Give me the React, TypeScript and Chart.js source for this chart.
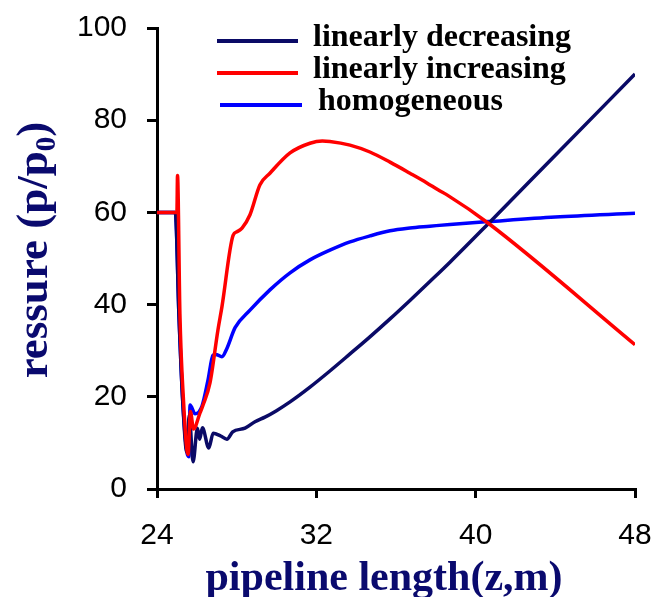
import React, { useEffect, useRef } from "react";
import { Chart, registerables } from "chart.js";

Chart.register(...registerables);

// Pressure ratio along the pipeline for three cross-section profiles
const decreasingX = [24, 24.92, 25.1, 25.28, 25.5, 25.62, 25.81, 26.03, 26.14, 26.28, 26.6, 26.82, 27.2, 27.51, 27.8, 28.42, 28.92, 29.42, 30.0, 30.68, 31.68, 32.68, 33.69, 34.69, 35.7, 36.7, 37.7, 38.71, 40.62, 44, 48];
const decreasingY = [60, 60, 38, 20, 8, 16, 5.9, 13.2, 10.8, 13.3, 8.9, 12.1, 11.5, 10.8, 12.4, 13.2, 14.6, 15.6, 17, 18.9, 22.1, 25.6, 29.3, 33.0, 36.9, 40.9, 45.0, 49.2, 57.5, 72.4, 90];

const increasingX = [24, 25.0, 25.03, 25.15, 25.32, 25.56, 25.68, 25.83, 26.16, 26.31, 26.66, 27.06, 27.26, 27.82, 28.02, 28.27, 28.67, 29.17, 29.67, 30.68, 31.68, 32.3, 32.68, 33.69, 34.69, 35.7, 36.7, 37.55, 38.11, 38.56, 40.62, 48];
const increasingY = [60, 60, 68, 38, 20, 7.5, 16.8, 13.0, 16.5, 18.2, 23, 34.5, 39.5, 55, 55.8, 56.6, 59.5, 66, 68.5, 72.9, 75, 75.5, 75.4, 74.6, 73.1, 70.9, 68.5, 66.4, 64.9, 63.8, 57.7, 31.3];

const homogeneousX = [24, 24.92, 25.1, 25.28, 25.5, 25.6, 25.66, 25.91, 26.26, 26.56, 26.81, 26.95, 27.26, 27.51, 27.92, 28.67, 29.67, 30.68, 31.68, 32.68, 33.69, 34.69, 35.7, 36.7, 37.7, 38.71, 40.62, 44, 48];
const homogeneousY = [60, 60, 38, 20, 8, 7, 18.2, 16.3, 18, 23.6, 29, 29.2, 28.7, 30.5, 35, 38.8, 43.2, 46.9, 49.7, 51.8, 53.6, 54.9, 56, 56.6, 57.0, 57.4, 58.0, 59.0, 59.8];

const seriesLabels = ["linearly decreasing", "linearly increasing", "homogeneous"];
const seriesColors = ["#0a0a66", "#ff0000", "#0000ff"];

const xTicks = [24, 32, 40, 48];
const yTicks = [0, 20, 40, 60, 80, 100];

const xTitle = "pipeline length(z,m)";
const yTitleMain = "ressure (p/p";
const yTitleSub = "0";
const yTitleEnd = ")";

const toPoints = (xs: number[], ys: number[]) => xs.map((x, i) => ({ x, y: ys[i] }));

const TITLE_COLOR = "#0a0a6e";

const annotations = {
  id: "annotations",
  afterDraw(chart: any) {
    const ctx: CanvasRenderingContext2D = chart.ctx;
    ctx.save();

    // legend inside the plot, upper right
    const legendRows = [
      { x1: 217, x2: 298, ly: 41, tx: 313, ty: 46 },
      { x1: 217, x2: 298, ly: 73, tx: 313, ty: 78 },
      { x1: 220, x2: 302, ly: 105, tx: 318, ty: 110 },
    ];
    ctx.font = "bold 32px 'Liberation Serif'";
    ctx.textBaseline = "alphabetic";
    ctx.textAlign = "left";
    legendRows.forEach((r, i) => {
      ctx.strokeStyle = seriesColors[i];
      ctx.lineWidth = 4;
      ctx.beginPath();
      ctx.moveTo(r.x1, r.ly);
      ctx.lineTo(r.x2, r.ly);
      ctx.stroke();
      ctx.fillStyle = "#000";
      ctx.fillText(seriesLabels[i], r.tx, r.ty);
    });

    // x axis title
    ctx.fillStyle = TITLE_COLOR;
    ctx.font = "bold 42px 'Liberation Serif'";
    ctx.textAlign = "center";
    ctx.fillText(xTitle, 384, 590);

    // y axis title with subscript
    ctx.translate(47, 250);
    ctx.rotate(-Math.PI / 2);
    const mainFont = "bold 45px 'Liberation Serif'";
    const subFont = "bold 29px 'Liberation Serif'";
    ctx.font = mainFont;
    const w1 = ctx.measureText(yTitleMain).width;
    const w3 = ctx.measureText(yTitleEnd).width;
    ctx.font = subFont;
    const w2 = ctx.measureText(yTitleSub).width;
    const total = w1 + w2 + w3;
    let x = -total / 2;
    ctx.textAlign = "left";
    ctx.font = mainFont;
    ctx.fillText(yTitleMain, x, 0);
    x += w1;
    ctx.font = subFont;
    ctx.fillText(yTitleSub, x, 8);
    x += w2;
    ctx.font = mainFont;
    ctx.fillText(yTitleEnd, x, 0);
    ctx.restore();
  },
};

const clearScalePadding = (scale: any) => {
  scale.paddingTop = 0;
  scale.paddingBottom = 0;
  scale.paddingLeft = 0;
  scale.paddingRight = 0;
};

export default function App() {
  const canvasRef = useRef<HTMLCanvasElement | null>(null);

  useEffect(() => {
    if (!canvasRef.current) return;
    const series = [
      { xs: decreasingX, ys: decreasingY, order: 1 },
      { xs: increasingX, ys: increasingY, order: 0 },
      { xs: homogeneousX, ys: homogeneousY, order: 2 },
    ];
    const axisCommon = {
      border: { display: true, color: "#000", width: 3 },
      grid: {
        display: true,
        drawOnChartArea: false,
        drawTicks: true,
        color: "#000",
        lineWidth: 3,
        tickWidth: 3,
      },
    };
    const tickFont = { family: "'Liberation Sans'", size: 30 };
    const chart = new Chart(canvasRef.current, {
      type: "line",
      data: {
        datasets: series.map((s, i) => ({
          label: seriesLabels[i],
          data: toPoints(s.xs, s.ys),
          borderColor: seriesColors[i],
          backgroundColor: seriesColors[i],
          borderWidth: 3.5,
          pointRadius: 0,
          fill: false,
          cubicInterpolationMode: "monotone" as const,
          order: s.order,
        })),
      },
      options: {
        animation: false,
        responsive: false,
        layout: { padding: { top: 28, right: 20, left: 0, bottom: 0 } },
        plugins: { legend: { display: false }, tooltip: { enabled: false } },
        scales: {
          x: {
            type: "linear",
            min: 24,
            max: 48,
            ...axisCommon,
            grid: { ...axisCommon.grid, tickLength: 9 },
            afterBuildTicks: (scale: any) => {
              scale.ticks = xTicks.map((v) => ({ value: v }));
            },
            afterFit: (scale: any) => {
              scale.height = 108;
              clearScalePadding(scale);
            },
            ticks: {
              color: "#000",
              font: tickFont,
              padding: 20,
              maxRotation: 0,
            },
          },
          y: {
            type: "linear",
            min: 0,
            max: 100,
            ...axisCommon,
            grid: { ...axisCommon.grid, tickLength: 10 },
            afterBuildTicks: (scale: any) => {
              scale.ticks = yTicks.map((v) => ({ value: v }));
            },
            afterFit: (scale: any) => {
              scale.width = 157;
              clearScalePadding(scale);
            },
            ticks: {
              color: "#000",
              font: tickFont,
              padding: 20,
            },
          },
        },
      },
      plugins: [annotations],
    });
    return () => chart.destroy();
  }, []);

  return (
    <div style={{ position: "fixed", left: 0, top: 0, width: 655, height: 597, background: "#fff" }}>
      <canvas ref={canvasRef} width={655} height={597} style={{ display: "block" }} />
    </div>
  );
}
